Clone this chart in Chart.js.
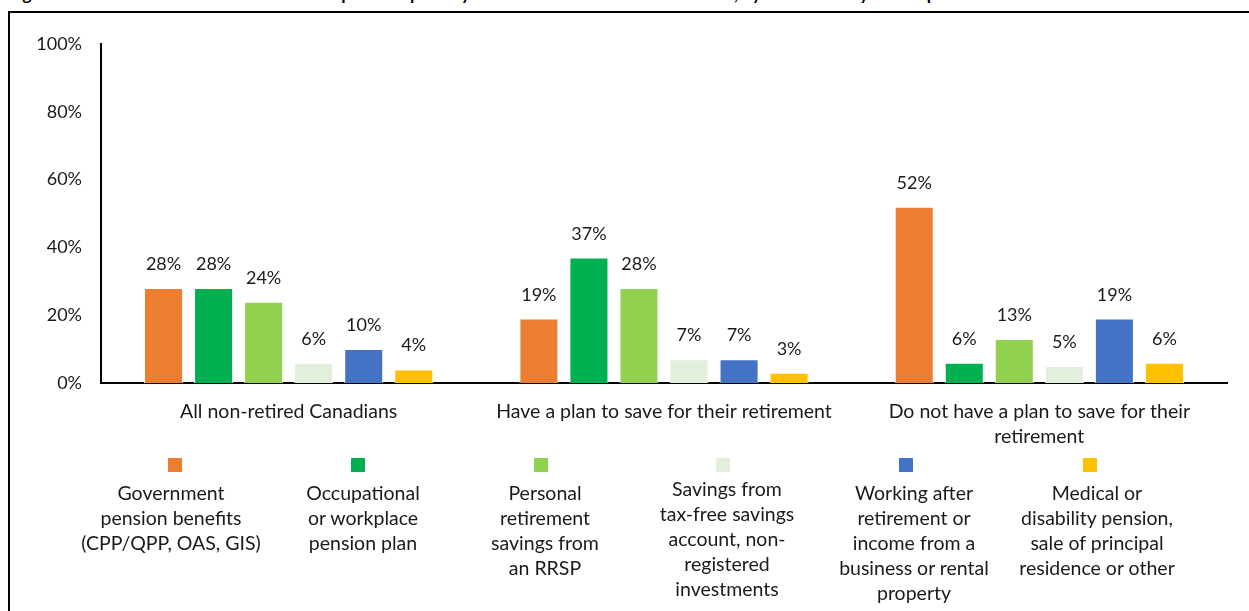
<!DOCTYPE html>
<html>
<head>
<meta charset="utf-8">
<script src="https://cdn.jsdelivr.net/npm/chart.js@4/dist/chart.umd.min.js"></script>
<style>
  html, body { margin: 0; padding: 0; background: #fff; overflow: hidden; }
  #wrap { position: relative; width: 1249px; height: 611px; overflow: hidden; }
  #title { position: absolute; left: 8px; top: -16px; font: bold 17.5px Lato, sans-serif; line-height: 20px; white-space: nowrap; color: #000; }
  #frame { position: absolute; left: 8px; top: 11px; width: 1280px; height: 700px; border: 2px solid #000; box-sizing: border-box; }
  #chart { position: absolute; left: 0; top: 0; }
  .swatch { position: absolute; width: 14px; height: 14px; }
  .entry { position: absolute; width: 200px; text-align: center; font: 19.5px Lato, sans-serif; line-height: 25px; color: #1a1a1a; }
</style>
</head>
<body>
<div id="wrap">
  <div id="title">Figure 5: How non-retired Canadians anticipate the primary source of their retirement income, by whether they have a plan to save</div>
  <div id="frame"></div>
  <canvas id="chart" width="1249" height="611"></canvas>
  <div id="legend"></div>
</div>
<script>
// groups on the x axis (wrapped the way they are printed)
const groups = [
    'All non-retired Canadians',
    'Have a plan to save for their retirement',
    ['Do not have a plan to save for their', 'retirement']
];

// income sources, one entry per printed row
const sources = [
    ['Government', 'pension benefits', '(CPP/QPP, OAS, GIS)'],
    ['Occupational', 'or workplace', 'pension plan'],
    ['Personal', 'retirement', 'savings from', 'an RRSP'],
    ['Savings from', 'tax-free savings', 'account, non-', 'registered', 'investments'],
    ['Working after', 'retirement or', 'income from a', 'business or rental', 'property'],
    ['Medical or', 'disability pension,', 'sale of principal', 'residence or other']
];

// percent of respondents, per group
const govtPension = [28, 19, 52];
const workplacePlan = [28, 37, 6];
const rrspSavings = [24, 28, 13];
const tfsaSavings = [6, 7, 5];
const workingAfter = [10, 7, 19];
const otherIncome = [4, 3, 6];

const yTicks = [0, 20, 40, 60, 80, 100];

const colors = ['#ED7D31', '#00B050', '#92D050', '#E2EFDA', '#4472C4', '#FFC000'];
const series = [govtPension, workplacePlan, rrspSavings, tfsaSavings, workingAfter, otherIncome];

const FONT = 'Lato, sans-serif';
const TEXT = '#1a1a1a';

// value labels above each bar
const barLabels = {
    id: 'barLabels',
    afterDatasetsDraw(chart) {
        const ctx = chart.ctx;
        ctx.save();
        ctx.font = '18px ' + FONT;
        ctx.fillStyle = TEXT;
        ctx.textAlign = 'center';
        ctx.textBaseline = 'alphabetic';
        chart.data.datasets.forEach((ds, i) => {
            chart.getDatasetMeta(i).data.forEach((bar, j) => {
                ctx.fillText(ds.data[j] + '%', bar.x, bar.y - 18);
            });
        });
        ctx.restore();
    }
};

const chart = new Chart(document.getElementById('chart'), {
    type: 'bar',
    data: {
        labels: groups,
        datasets: series.map((values, i) => ({
            label: sources[i].join(' '),
            data: values,
            backgroundColor: colors[i],
            borderColor: '#fff',
            borderWidth: 1,
            barPercentage: 0.78,
            categoryPercentage: 0.8
        }))
    },
    options: {
        responsive: false,
        animation: false,
        events: [],
        layout: { padding: { top: 44, right: 22, left: 0, bottom: 0 } },
        plugins: {
            legend: { display: false },
            title: { display: false },
            tooltip: { enabled: false }
        },
        scales: {
            x: {
                grid: { display: false, drawTicks: false },
                border: { color: '#000', width: 2 },
                ticks: {
                    padding: 16,
                    color: TEXT,
                    font: { family: FONT, size: 19.5, lineHeight: 1.28 },
                    maxRotation: 0,
                    autoSkip: false
                },
                afterFit(scale) { scale.height = 228; }
            },
            y: {
                min: 0,
                max: 100,
                afterBuildTicks(scale) { scale.ticks = yTicks.map(v => ({ value: v })); },
                grid: { display: false, drawTicks: false },
                border: { color: '#000', width: 2 },
                ticks: {
                    padding: 19,
                    color: TEXT,
                    font: { family: FONT, size: 18 },
                    callback: v => v + '%'
                },
                afterFit(scale) { scale.width = 101; }
            }
        }
    },
    plugins: [barLabels]
});

// legend below the plot: swatch above a wrapped caption
const textCenters = [171, 363, 545, 727, 914, 1097];
const swatchCenters = [175, 358, 541, 723, 906, 1090];
const textTops = [480, 480, 480, 476, 480, 480];
const legend = document.getElementById('legend');
sources.forEach((lines, i) => {
    const sw = document.createElement('div');
    sw.className = 'swatch';
    sw.style.left = (swatchCenters[i] - 7) + 'px';
    sw.style.top = '458px';
    sw.style.background = colors[i];
    legend.appendChild(sw);

    const tx = document.createElement('div');
    tx.className = 'entry';
    tx.style.left = (textCenters[i] - 100) + 'px';
    tx.style.top = textTops[i] + 'px';
    tx.innerHTML = lines.join('<br>');
    legend.appendChild(tx);
});
</script>
</body>
</html>
